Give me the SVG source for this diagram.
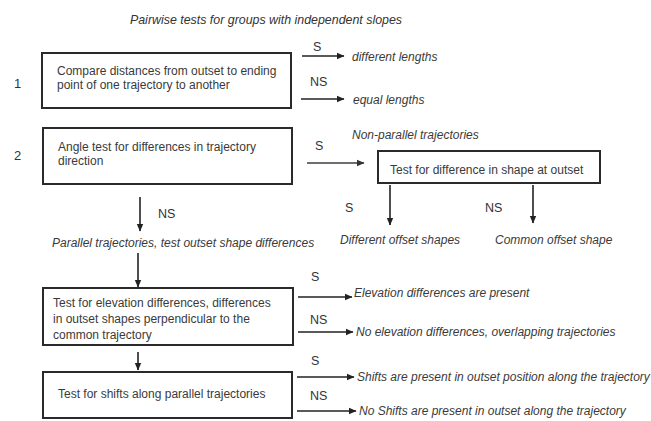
<svg xmlns="http://www.w3.org/2000/svg" width="651" height="421" viewBox="0 0 651 421">
  <style>
    .box { fill: #ffffff; stroke: #2a2a2a; stroke-width: 2; }
    .btxt { font-family: "Liberation Sans", Arial, sans-serif; font-size: 12px; fill: #3a3a3a; }
    .res { font-family: "Liberation Sans", Arial, sans-serif; font-size: 12px; font-style: italic; fill: #3a3a3a; }
    .lbl { font-family: "Liberation Sans", Arial, sans-serif; font-size: 12.5px; fill: #333333; }
    .num { font-family: "Liberation Sans", Arial, sans-serif; font-size: 13px; fill: #333333; }
    .title { font-family: "Liberation Sans", Arial, sans-serif; font-size: 12.4px; font-style: italic; fill: #333333; }
    .conn { stroke: #222222; stroke-width: 1.6; fill: none; marker-end: url(#head); }
    .conn.grey { stroke: #6e6e6e; stroke-width: 2.2; marker-end: url(#headGrey); }
  </style>
  <defs>
    <marker id="head" markerUnits="userSpaceOnUse" markerWidth="8" markerHeight="8" viewBox="0 0 8 8" refX="7" refY="4" orient="auto">
      <path d="M0,0.8 L7.5,4 L0,7.2 Z" fill="#222222"/>
    </marker>
    <marker id="headGrey" markerUnits="userSpaceOnUse" markerWidth="8" markerHeight="8" viewBox="0 0 8 8" refX="7" refY="4" orient="auto">
      <path d="M0,0.8 L7.5,4 L0,7.2 Z" fill="#333333"/>
    </marker>
  </defs>

  <rect width="651" height="421" fill="#ffffff"/>

  <text class="title" x="266" y="24" text-anchor="middle">Pairwise tests for groups with independent slopes</text>
  <text class="num" x="14" y="88">1</text>
  <text class="num" x="14" y="160">2</text>

  <!-- step 1 -->
  <g id="distance-test">
    <rect class="box" x="42" y="53" width="249" height="55"/>
    <text class="btxt" x="57" y="75">Compare distances from outset to ending</text>
    <text class="btxt" x="57" y="89">point of one trajectory to another</text>
  </g>

  <!-- step 2 -->
  <g id="angle-test">
    <rect class="box" x="43" y="128" width="249" height="56"/>
    <text class="btxt" x="58" y="151">Angle test for differences in trajectory</text>
    <text class="btxt" x="58" y="165">direction</text>
  </g>

  <g id="shape-test">
    <rect class="box" x="378" y="151" width="222" height="32"/>
    <text class="btxt" x="390" y="174">Test for difference in shape at outset</text>
  </g>

  <g id="elevation-test">
    <rect class="box" x="43" y="288" width="250" height="57"/>
    <text class="btxt" x="53" y="307">Test for elevation differences,  differences</text>
    <text class="btxt" x="53" y="323">in outset shapes perpendicular to the</text>
    <text class="btxt" x="53" y="339">common trajectory</text>
  </g>

  <g id="shift-test">
    <rect class="box" x="43" y="372" width="249" height="46"/>
    <text class="btxt" x="58" y="398">Test for shifts along parallel trajectories</text>
  </g>

  <!-- outcome labels -->
  <g id="outcomes">
    <text class="res" x="352" y="61">different lengths</text>
    <text class="res" x="353" y="104">equal lengths</text>
    <text class="res" x="352" y="139">Non-parallel trajectories</text>
    <text class="res" x="340" y="244">Different offset shapes</text>
    <text class="res" x="495" y="244">Common offset shape</text>
    <text class="res" x="52" y="247">Parallel trajectories, test outset shape differences</text>
    <text class="res" x="354" y="297">Elevation differences are present</text>
    <text class="res" x="356" y="336">No elevation differences, overlapping trajectories</text>
    <text class="res" x="357" y="381">Shifts are present in outset position along the trajectory</text>
    <text class="res" x="359" y="415">No Shifts are present in outset along the trajectory</text>
  </g>

  <!-- connectors with significance labels -->
  <g id="connectors">
    <line class="conn" x1="302" y1="56" x2="344" y2="56"/>
    <line class="conn" x1="301" y1="99" x2="344" y2="99"/>
    <line class="conn grey" x1="307" y1="163" x2="364" y2="163"/>
    <line class="conn" x1="390" y1="185" x2="390" y2="225"/>
    <line class="conn" x1="533" y1="185" x2="533" y2="223"/>
    <line class="conn" x1="140" y1="197" x2="140" y2="231"/>
    <line class="conn" x1="138" y1="253" x2="138" y2="287"/>
    <line class="conn" x1="138" y1="352" x2="138" y2="370"/>
    <line class="conn" x1="298" y1="297" x2="352" y2="297"/>
    <line class="conn" x1="298" y1="332" x2="353" y2="332"/>
    <line class="conn" x1="297" y1="377" x2="354" y2="377"/>
    <line class="conn" x1="297" y1="411" x2="356" y2="411"/>

    <text class="lbl" x="313" y="51">S</text>
    <text class="lbl" x="310" y="86">NS</text>
    <text class="lbl" x="315" y="150">S</text>
    <text class="lbl" x="158" y="218">NS</text>
    <text class="lbl" x="345" y="212">S</text>
    <text class="lbl" x="485" y="212">NS</text>
    <text class="lbl" x="311" y="281">S</text>
    <text class="lbl" x="310" y="324">NS</text>
    <text class="lbl" x="311" y="365">S</text>
    <text class="lbl" x="310" y="400">NS</text>
  </g>
</svg>
